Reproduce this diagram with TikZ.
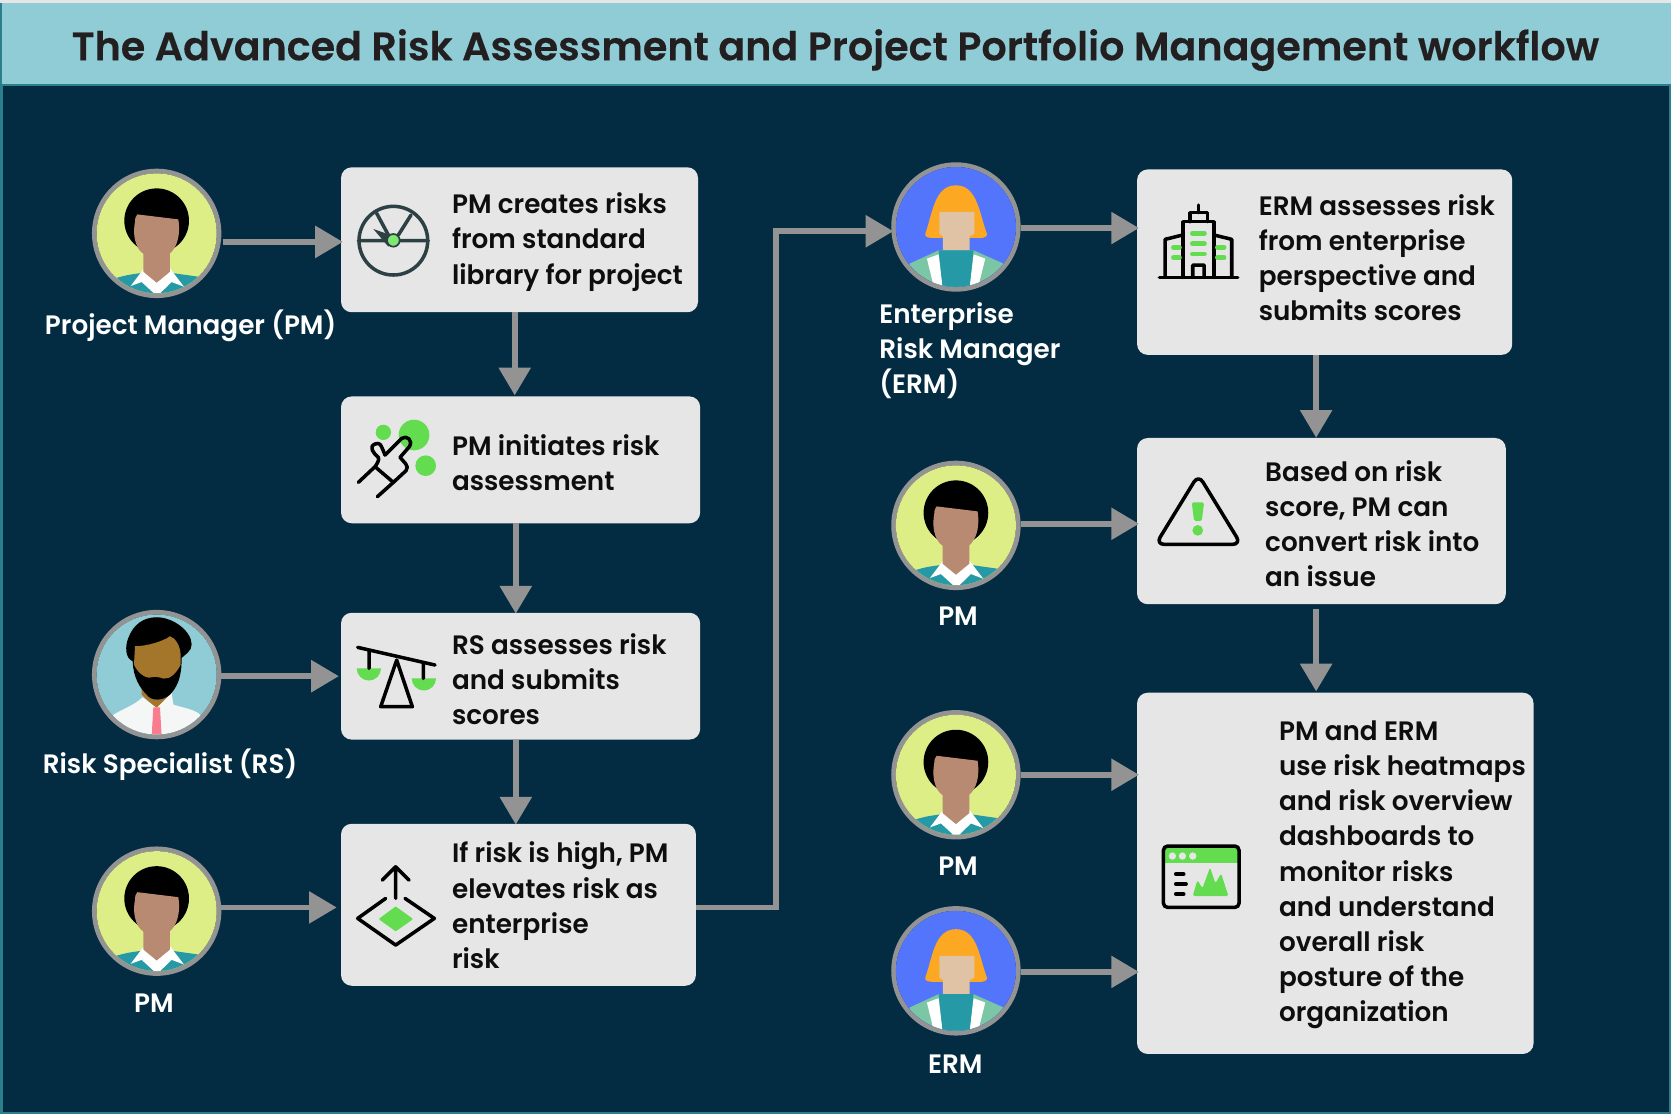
\documentclass[tikz,border=0pt]{standalone}
\usepackage{fontspec}
\usetikzlibrary{arrows.meta,calc}
\setmainfont{Poppins}
\newfontfamily\medfont{Poppins SemiBold}[FakeStretch=0.985]
\newfontfamily\semifont{Poppins SemiBold}[FakeBold=0.25]
\definecolor{navy}{HTML}{032C42}
\definecolor{headbg}{HTML}{8FCCD5}
\definecolor{headline}{HTML}{2B7F8C}
\definecolor{conngray}{HTML}{939393}
\definecolor{boxbg}{HTML}{E6E6E6}
\definecolor{igreen}{HTML}{63DC50}
\definecolor{gaugeink}{HTML}{2D4044}
\definecolor{ink}{HTML}{0E0E0E}
\tikzset{
  conn/.style={draw=conngray,line width=5.5pt,shorten >=-2pt,-{Triangle[length=26pt,width=29pt]}},
  box/.style={fill=boxbg,rounded corners=10pt},
  boxtext/.style={anchor=west,align=left,inner sep=0pt,text=ink,font=\medfont\fontsize{25}{33}\selectfont},
  whitetext/.style={inner sep=0pt,text=white,align=left,font=\medfont\fontsize{25}{33}\selectfont},
  avatar/.style={circle,draw=conngray,line width=4.4pt,minimum size=117pt,inner sep=0pt},
  icon/.style={line width=3.3pt,line cap=round,line join=round,draw=black},
  pmface/.pic={
    \begin{scope}[x=.3128pt,y=-.3128pt]
      \fill[fill={rgb,255:red,220;green,238;blue,133}] (0,0) circle[radius=180];
      \clip (0,0) circle[radius=179.5];
      \fill[black] (0,-38) circle[radius=97];
      \fill[fill={rgb,255:red,37;green,153;blue,165}] (-125,135) .. controls (-90,125) .. (-40,118) -- (40,118) .. controls (90,125) .. (125,130) -- (140,200) -- (-140,200) -- cycle;
      \fill[white] (-38,105) -- (-78,158) -- (-45,146) -- (-10,178) -- (-10,190) -- (12,190) -- (12,178) -- (45,146) -- (82,160) -- (40,105) -- cycle;
      \fill[fill={rgb,255:red,185;green,138;blue,114}] (-40,40) -- (40,40) -- (40,115) -- (0,148) -- (-40,115) -- cycle;
      \fill[fill={rgb,255:red,185;green,138;blue,114}] (-58,-57) -- (65,-42) .. controls (75,20) and (50,60) .. (30,65) -- (-30,65) .. controls (-55,60) and (-75,20) .. (-65,-35) .. controls (-64,-48) .. (-58,-57) -- cycle;
    \end{scope}
  },
  rsface/.pic={
    \begin{scope}[x=.3128pt,y=-.3128pt]
      \fill[fill=headbg] (0,0) circle[radius=180];
      \clip (0,0) circle[radius=179.5];
      \fill[fill={rgb,255:red,164;green,118;blue,44}] (-45,40) -- (45,40) -- (45,60) -- (0,105) -- (-45,60) -- cycle;
      \fill[fill={rgb,255:red,245;green,247;blue,247}] (-135,125) .. controls (-110,105) and (-70,95) .. (-42,68) -- (0,100) -- (45,55) -- (50,90) .. controls (80,100) and (120,105) .. (135,125) -- (135,200) -- (-135,200) -- cycle;
      \fill[fill={rgb,255:red,250;green,125;blue,142}] (-10,98) -- (10,98) -- (15,185) -- (-15,185) -- cycle;
      \fill[black] (-72,-40) .. controls (-95,-50) and (-95,-85) .. (-85,-110) .. controls (-70,-150) and (-40,-172) .. (0,-172) .. controls (50,-172) and (105,-130) .. (105,-90) .. controls (105,-70) and (85,-60) .. (75,-50) .. controls (75,-10) and (70,30) .. (40,60) .. controls (20,78) and (-15,82) .. (-30,60) .. controls (-50,40) and (-70,10) .. (-72,-40) -- cycle;
      \fill[fill={rgb,255:red,164;green,118;blue,44}] (-65,-85) .. controls (-30,-85) and (20,-100) .. (40,-115) .. controls (55,-110) and (70,-90) .. (72,-60) -- (72,-30) .. controls (60,-5) and (40,15) .. (20,12) .. controls (10,8) and (-5,5) .. (-15,8) .. controls (-35,15) and (-60,-10) .. (-68,-30) -- cycle;
    \end{scope}
  },
  ermface/.pic={
    \begin{scope}[x=.3128pt,y=-.3128pt]
      \fill[fill={rgb,255:red,83;green,117;blue,251}] (0,0) circle[radius=180];
      \clip (0,0) circle[radius=179.5];
      \fill[fill={rgb,255:red,252;green,168;blue,34}] (-92,20) .. controls (-70,-40) and (-65,-125) .. (0,-125) .. controls (65,-125) and (70,-40) .. (93,20) .. controls (95,28) and (85,33) .. (75,33) -- (-70,33) .. controls (-85,33) and (-95,28) .. (-92,20) -- cycle;
      \fill[fill={rgb,255:red,224;green,194;blue,164}] (-50,-45) -- (55,-45) -- (55,20) -- (41,28) -- (41,70) -- (-39,70) -- (-39,28) -- (-50,20) -- cycle;
      \fill[fill={rgb,255:red,123;green,198;blue,165}] (-139,110) -- (-52,70) -- (53,70) -- (143,110) -- (143,200) -- (-139,200) -- cycle;
      \fill[white] (-87,95) -- (-52,82) -- (-39,185) -- (-65,185) -- cycle;
      \fill[white] (53,82) -- (88,95) -- (68,175) -- (40,185) -- cycle;
      \fill[fill={rgb,255:red,37;green,153;blue,165}] (-52,70) -- (53,70) -- (40,190) -- (-39,190) -- cycle;
    \end{scope}
  },
}
\begin{document}
\begin{tikzpicture}[x=1pt,y=-1pt]
\useasboundingbox (0,0) rectangle (1568,1045.3);
% background
\fill[headline] (0,0) rectangle (1568,1045.3);
\fill[boxbg] (0,0) rectangle (1568,2.5);
\fill[headbg] (2,2.5) rectangle (1568,79);
\fill[navy] (2.8,81) rectangle (1566.5,1043.8);
\node[anchor=center,inner sep=0pt,text={rgb,255:red,35;green,31;blue,32},font=\semifont\fontsize{37.2}{44}\selectfont] (title) at (784,47) {The Advanced Risk Assessment and Project Portfolio Management workflow};
% boxes
\node[box,minimum width=335pt,minimum height=136pt,inner sep=0pt] (b1) at (487.5,225) {};
\node[box,minimum width=337pt,minimum height=119pt,inner sep=0pt] (b2) at (488.5,431.5) {};
\node[box,minimum width=337pt,minimum height=119pt,inner sep=0pt] (b3) at (488.5,634.5) {};
\node[box,minimum width=333pt,minimum height=152pt,inner sep=0pt] (b4) at (486.5,849) {};
\node[box,minimum width=352pt,minimum height=174pt,inner sep=0pt] (b5) at (1243,246) {};
\node[box,minimum width=346pt,minimum height=156pt,inner sep=0pt] (b6) at (1240,489) {};
\node[box,minimum width=372pt,minimum height=339pt,inner sep=0pt] (b7) at (1253,819.5) {};
% box texts
\node[boxtext] (t1) at (424,227) {PM creates risks\\from standard\\library for project};
\node[boxtext] (t2) at (424,434.5) {PM initiates risk\\assessment};
\node[boxtext] (t3) at (424,637.5) {RS assesses risk\\and submits\\scores};
\node[boxtext] (t4) at (424,849.5) {If risk is high, PM\\elevates risk as\\enterprise\\risk};
\node[boxtext] (t5) at (1181,242) {ERM assesses risk\\from enterprise\\perspective and\\submits scores};
\node[boxtext] (t6) at (1187,491.5) {Based on risk\\score, PM can\\convert risk into\\an issue};
\node[boxtext] (t7) at (1200,821) {PM and ERM\\use risk heatmaps\\and risk overview\\dashboards to\\monitor risks\\and understand\\overall risk\\posture of the\\organization};
% avatars
\node[avatar] (a1) at (147,219) {}; \pic at (a1) {pmface};
\node[avatar] (a2) at (147,633) {}; \pic at (a2) {rsface};
\node[avatar] (a3) at (147,855) {}; \pic at (a3) {pmface};
\node[avatar] (a4) at (897,213) {}; \pic at (a4) {ermface};
\node[avatar] (a5) at (897,493) {}; \pic at (a5) {pmface};
\node[avatar] (a6) at (897,727) {}; \pic at (a6) {pmface};
\node[avatar] (a7) at (897,911) {}; \pic at (a7) {ermface};
% avatar labels
\node[whitetext,anchor=west] (l1) at (42,306) {Project Manager (PM)};
\node[whitetext,anchor=west] (l2) at (40,717.5) {Risk Specialist (RS)};
\node[whitetext] (l3) at (144.5,941) {PM};
\node[whitetext,anchor=west] (l4) at (825,329) {Enterprise\\Risk Manager\\(ERM)};
\node[whitetext] (l5) at (899,578) {PM};
\node[whitetext] (l6) at (899,812.5) {PM};
\node[whitetext] (l7) at (896.5,998.5) {ERM};
% connectors
\draw[conn] (a1.east) ++(1.5,8) coordinate (c1) -- (c1 -| b1.west);
\draw[conn] (a2.east) ++(0,1.5) coordinate (c2) -- (316,634.5);
\draw[conn] (a3.east) ++(0,-3.5) coordinate (c3) -- (314,851.5);
\draw[conn] (a4.east) ++(0,1) coordinate (c4) -- (c4 -| b5.west);
\draw[conn] (a5.east) ++(0,-1.5) coordinate (c5) -- (c5 -| b6.west);
\draw[conn] (a6.east) -- (b7.west |- a6.east);
\draw[conn] (a7.east) ++(0,1) coordinate (c7) -- (c7 -| b7.west);
\draw[conn] (b1.south) ++(-4.5,0) coordinate (c12) -- (483,369);
\draw[conn] (b2.south) ++(-4.5,0) coordinate (c8) -- ($(c8 |- b3.north)+(0,-1)$);
\draw[conn] (b3.south) ++(-4.5,0) coordinate (c9) -- ($(c9 |- b4.north)+(0,-1)$);
\draw[conn] (b5.south) ++(-8,0) coordinate (c10) -- ($(c10 |- b6.north)+(0,-2)$);
\draw[conn] (b6.south) ++(-5,4) coordinate (c13) -- ($(c13 |- b7.north)+(0,-3)$);
\draw[conn] (b4.east) ++(0,2.5) coordinate (c11) -- (728,851.5) -- (728,217) -- (a4.west |- 0,217);
% icons: gauge
\begin{scope}[x=.3128pt,y=-.3128pt,shift={(180,450)}]
  \draw[icon,draw=gaugeink] (1000,272) circle[radius=103];
  \draw[icon,draw=gaugeink] (895,272) -- (985,272) (1015,272) -- (1105,272) (950,190) -- (985,255) (1053,195) -- (1015,255);
  \fill[gaugeink] (940,237) -- (1000,258) -- (985,290) -- cycle;
  \filldraw[draw=gaugeink,line width=1.6pt,fill={rgb,255:red,128;green,232;blue,112}] (1000,271) circle[radius=19];
\end{scope}
% touch
\begin{scope}[x=.3128pt,y=-.3128pt,shift={(1020,1200)}]
  \fill[igreen] (130,97) circle[radius=23] (222,105) circle[radius=46] (257,197) circle[radius=31];
  \draw[icon] (55,247) -- (105,200) .. controls (112,190) and (118,180) .. (115,172) .. controls (100,160) and (85,140) .. (105,132) .. controls (120,128) .. (135,165) -- (185,115) .. controls (200,105) and (220,120) .. (208,140) -- (180,172) .. controls (190,185) and (210,198) .. (198,212) -- (160,247) -- (105,200);
  \draw[icon] (160,247) -- (112,290);
\end{scope}
% scales
\begin{scope}[x=.3128pt,y=-.3128pt,shift={(180,1770)}]
  \fill[igreen] (890,235) -- (963,235) arc[start angle=0,end angle=180,radius=36.5] -- cycle;
  \fill[igreen] (1055,265) -- (1128,265) arc[start angle=0,end angle=180,radius=36.5] -- cycle;
  \draw[icon] (893,172) -- (1125,225) (927,185) -- (927,235) (1090,222) -- (1090,265);
  \draw[icon] (1010,210) -- (1057,350) -- (962,350) -- cycle;
\end{scope}
% escalate
\begin{scope}[x=.3128pt,y=-.3128pt,shift={(1020,2520)}]
  \draw[icon] (167,175) -- (167,80) (127,120) -- (167,80) -- (207,120);
  \draw[icon] (137,175) -- (53,235) -- (167,315) -- (283,235) -- (195,175);
  \fill[igreen,draw=igreen,line width=2pt,line join=round] (167,203) -- (214,237) -- (167,270) -- (121,237) -- cycle;
\end{scope}
% building
\begin{scope}[x=.3128pt,y=-.3128pt,shift={(2610,450)}]
  \draw[icon] (868,382) -- (1103,382) (938,382) -- (938,215) -- (1032,215) -- (1032,382) (960,215) -- (960,188) -- (1012,188) -- (1012,215) (985,188) -- (985,165);
  \draw[icon] (938,255) -- (885,268) -- (885,382) (1032,255) -- (1085,268) -- (1085,382) (968,382) -- (968,345) -- (1002,345) -- (1002,382);
  \draw[igreen,line width=4.5pt,line cap=round] (967,250) -- (1003,250) (967,281) -- (1003,281) (967,312) -- (1003,312) (910,292) -- (928,292) (910,323) -- (928,323) (1042,292) -- (1062,292) (1042,323) -- (1062,323);
\end{scope}
% warning
\begin{scope}[x=.3128pt,y=-.3128pt,shift={(3420,1380)}]
  \draw[icon,rounded corners=8pt] (175,44) -- (303,253) -- (47,253) -- cycle;
  \fill[igreen,rounded corners=1.5pt] (155,127) -- (192,127) -- (185,183) -- (162,183) -- cycle;
  \fill[igreen] (173,211) circle[radius=16];
\end{scope}
% dashboard
\begin{scope}[x=.3128pt,y=-.3128pt,shift={(3420,2460)}]
  \fill[igreen] (72,80) rectangle (295,130);
  \draw[icon,rounded corners=4pt] (70,78) rectangle (297,262);
  \fill[boxbg] (97,108) circle[radius=11] (127,108) circle[radius=11] (158,108) circle[radius=11];
  \draw[icon] (107,162) -- (131,162) (107,192) -- (138,192) (107,222) -- (131,222);
  \fill[igreen,rounded corners=1.5pt] (158,228) -- (172,180) -- (187,205) -- (210,142) -- (226,190) -- (243,160) -- (265,228) -- cycle;
\end{scope}
\end{tikzpicture}
\end{document}
